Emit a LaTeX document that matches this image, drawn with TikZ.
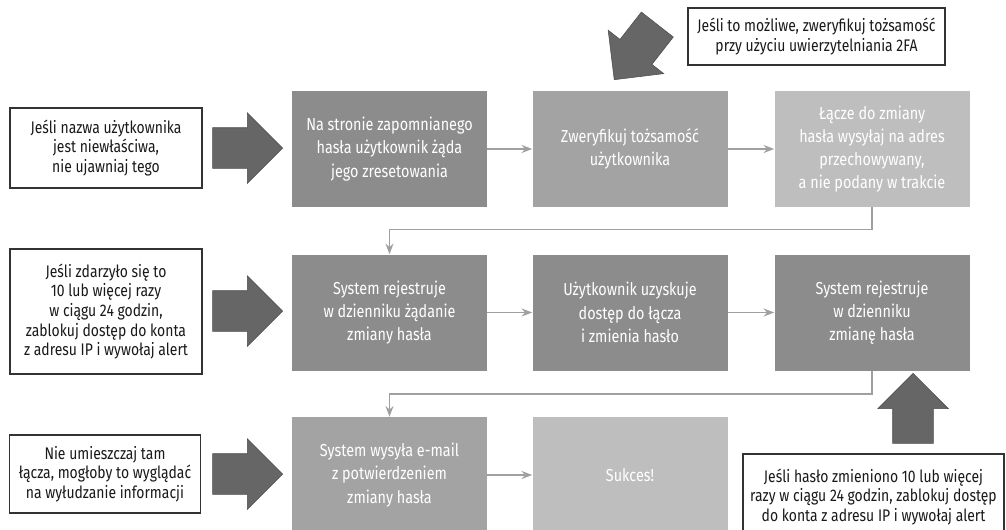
\documentclass[tikz,border=0pt]{standalone}
\usepackage{fontspec}
\setmainfont{Fira Sans}[FakeStretch=0.83]
\usepackage{xcolor}
\usetikzlibrary{shapes.arrows,arrows.meta}

\definecolor{boxdark}{HTML}{8C8C8C}
\definecolor{boxmid}{HTML}{A3A3A3}
\definecolor{boxlight}{HTML}{BEBEBE}
\definecolor{arrfill}{HTML}{666666}
\definecolor{lnkgray}{HTML}{A0A0A0}

\begin{document}
\begin{tikzpicture}[
  x=0.75pt, y=-0.75pt,
  blk/.style={rectangle, inner sep=0pt, minimum width=146.25pt, minimum height=87pt,
    align=center, text=white, font=\fontsize{13}{17.4}\selectfont},
  note/.style={draw=black!80, line width=0.8pt, fill=white, inner sep=0pt,
    align=center, text=black!90, font=\fontsize{12.6}{14.7}\selectfont},
  bigarr/.style={single arrow, draw=black!70, fill=arrfill, inner xsep=0pt, inner ysep=15pt,
    single arrow head extend=11.25pt, single arrow head indent=0pt, minimum height=52.5pt,
    anchor=tip},
  lnk/.style={-{Stealth[length=8pt,width=6pt]}, line width=1.1pt, lnkgray},
]
  \useasboundingbox (0,0) rectangle (1006,529);

  % Row 1
  \node[blk, fill=boxdark] (reset) at (389.5,149) {Na stronie zapomnianego\\hasła użytkownik żąda\\jego zresetowania};
  \node[blk, fill=boxmid] (verify) at (630,149) {Zweryfikuj tożsamość\\użytkownika};
  \node[blk, fill=boxlight] (link) at (872,149) {Łącze do zmiany\\hasła wysyłaj na adres\\przechowywany,\\a nie podany w trakcie};

  % Row 2
  \node[blk, fill=boxdark] (logreq) at (389.5,312.5) {System rejestruje\\w dzienniku żądanie\\zmiany hasła};
  \node[blk, fill=boxdark] (change) at (630,312.5) {Użytkownik uzyskuje\\dostęp do łącza\\i zmienia hasło};
  \node[blk, fill=boxdark] (logchg) at (872,312.5) {System rejestruje\\w dzienniku\\zmianę hasła};

  % Row 3
  \node[blk, fill=boxmid] (mail) at (389.5,475) {System wysyła e-mail\\z potwierdzeniem\\zmiany hasła};
  \node[blk, fill=boxlight] (done) at (630,475) {Sukces!};

  % Flow
  \draw[lnk] (reset) -- (verify);
  \draw[lnk] (verify) -- (link);
  \draw[lnk] (link.south) -- ++(0,22) -| (logreq.north);
  \draw[lnk] (logreq) -- (change);
  \draw[lnk] (change) -- (logchg);
  \draw[lnk] (logchg.south) -- ++(0,23) -| (mail.north);
  \draw[lnk] (mail) -- (done);

  % Notes (left)
  \node[note, minimum width=144pt, minimum height=60pt] (n1) at (106,148) {Jeśli nazwa użytkownika\\jest niewłaściwa,\\nie ujawniaj tego};
  \node[note, minimum width=144pt, minimum height=93.75pt] (n2) at (106,311.5) {Jeśli zdarzyło się to\\10 lub więcej razy\\w ciągu 24 godzin,\\zablokuj dostęp do konta\\z adresu IP i wywołaj alert};
  \node[note, minimum width=143pt, minimum height=58.5pt] (n3) at (105,474) {Nie umieszczaj tam\\łącza, mogłoby to wyglądać\\na wyłudzanie informacji};

  % Notes (right)
  \node[note, minimum width=192.75pt, minimum height=42.75pt] (n4) at (816.5,36.5) {Jeśli to możliwe, zweryfikuj tożsamość\\przy użyciu uwierzytelniania 2FA};
  \node[note, minimum width=195.75pt, minimum height=64.5pt] (n5) at (873.5,497) {Jeśli hasło zmieniono 10 lub więcej\\razy w ciągu 24 godzin, zablokuj dostęp\\do konta z adresu IP i wywołaj alert};

  % Big arrows (placed by their tips)
  \node[bigarr] (a1) at (283,148) {};
  \node[bigarr] (a2) at (283,311) {};
  \node[bigarr] (a3) at (283,474) {};
  \node[bigarr, rotate=90] (a4) at (913,373) {};
  \node[bigarr, rotate=232] (a5) at (614,80) {};
\end{tikzpicture}
\end{document}
